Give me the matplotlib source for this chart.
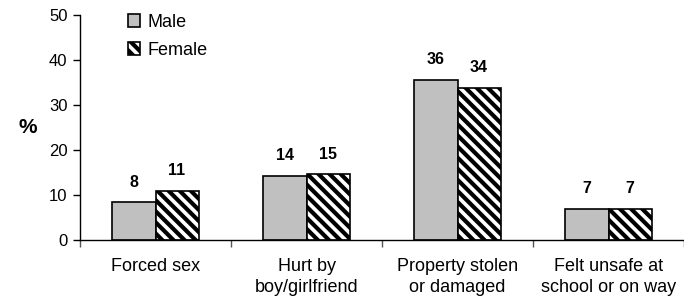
import matplotlib.pyplot as plt
import numpy as np

plt.rcParams["font.family"] = ["Liberation Sans", "DejaVu Sans"]
plt.rcParams["hatch.linewidth"] = 3.0

categories = ["Forced sex", "Hurt by\nboy/girlfriend", "Property stolen\nor damaged",
              "Felt unsafe at\nschool or on way"]
male = [8.4, 14.2, 35.6, 7.0]
female = [10.9, 14.6, 33.8, 7.0]
male_labels = ["8", "14", "36", "7"]
female_labels = ["11", "15", "34", "7"]

fig = plt.figure(figsize=(6.84, 3.04), dpi=100)
ax = fig.add_axes([0.117, 0.21, 0.883, 0.741])

x = np.arange(len(categories))
w = 0.285
b1 = ax.bar(x - w / 2, male, w, color="#c0c0c0", edgecolor="black", linewidth=1.2, label="Male")
b2 = ax.bar(x + w / 2, female, w, color="white", edgecolor="black", linewidth=1.2,
            hatch="\\\\\\", label="Female")

# value labels sit about 20 px above each bar
for bars, labels in ((b1, male_labels), (b2, female_labels)):
    for rect, lab in zip(bars, labels):
        ax.text(rect.get_x() + rect.get_width() / 2, rect.get_height() + 4.5, lab,
                ha="center", va="center", fontsize=11.5, fontweight="bold")

ax.set_xlim(-0.5, len(categories) - 0.5)
ax.set_ylim(0, 50)
ax.set_yticks(range(0, 51, 10))
ax.tick_params(axis="y", labelsize=12, length=5, width=1, pad=4)
ax.set_xticks(np.arange(len(categories) + 1) - 0.5)
ax.set_xticklabels([])
ax.tick_params(axis="x", length=5, width=1, color="#555555")
ax.set_xticks(x, minor=True)
ax.set_xticklabels(categories, minor=True, fontsize=13, linespacing=1.3)
ax.tick_params(axis="x", which="minor", length=0, pad=13)

for s in ["top", "right"]:
    ax.spines[s].set_visible(False)
ax.spines["left"].set_linewidth(1)
ax.spines["bottom"].set_linewidth(1)

fig.text(0.041, 0.582, "%", fontsize=15, fontweight="bold", ha="center", va="center")

ax.legend(loc="upper left", bbox_to_anchor=(0.079, 1.005), frameon=False, fontsize=13,
          handlelength=0.7, handleheight=0.7, handletextpad=0.4, labelspacing=0.6,
          borderpad=0, borderaxespad=0)

fig.savefig("out.png", dpi=100, facecolor="white")
